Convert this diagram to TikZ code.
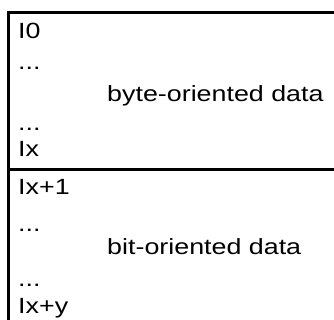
\documentclass[tikz,border=0pt]{standalone}
\usepackage{fontspec}
\setmainfont{Liberation Sans}
\usetikzlibrary{positioning}

\begin{document}
\begin{tikzpicture}[x=1pt, y=-1pt,
	every node/.style={ font=\fontsize{22}{26}\selectfont,
    					anchor=base west,
                        inner sep=0pt,
                        xscale=1.22
                        },
	frame/.style= {draw,
    			  line width=3pt
    }
]
	\useasboundingbox (0,0) rectangle (334,320);
	% frame of the layout
    \coordinate (topright) at (334,13);
    \coordinate (bottomleft) at (8.3,320);
    \coordinate (splitleft) at (8.3,170);
    \coordinate (splitright) at (334,170);
    \draw[frame] (topright) -| (bottomleft);
    \draw[frame] (splitleft) -- (splitright);
	% byte-oriented part
	\node (first) at (18,38.5) {I0};
    \node (dotsa) at (18,70) {...};
    \node (bytedata) at (107,102) {byte-oriented data};
    \node (dotsb) at (18,131) {...};
    \node (lastbyte) at (18,156.7) {Ix};
	% bit-oriented part
    \node (firstbit) at (18,195) {Ix+1};
    \node (dotsc) at (18,231.5) {...};
    \node (bitdata) at (107,254) {bit-oriented data};
    \node (dotsd) at (18,286.5) {...};
    \node (last) at (18,313.5) {Ix+y};
\end{tikzpicture}
\end{document}
